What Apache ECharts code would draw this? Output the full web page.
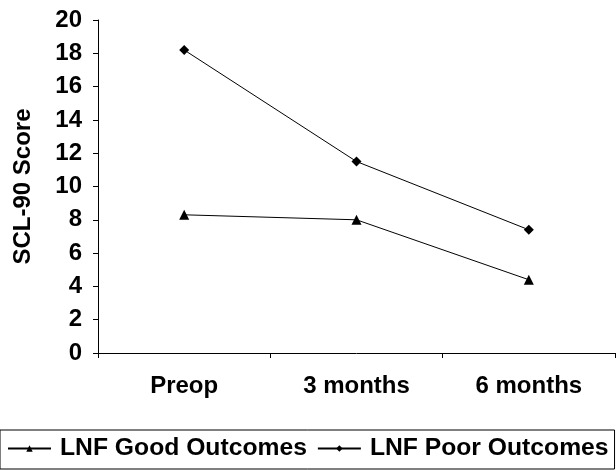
<!DOCTYPE html>
<html><head><meta charset="utf-8">
<script src="https://cdn.jsdelivr.net/npm/echarts@6/dist/echarts.min.js"></script>
<style>html,body{margin:0;padding:0;background:#fff}#c{width:616px;height:470px}</style>
</head><body><div id="c"></div>
<script>
var categories = ['Preop', '3 months', '6 months'];
var goodOutcomes = [8.3, 8.0, 4.4];
var poorOutcomes = [18.2, 11.5, 7.4];
var yTicks = [0, 2, 4, 6, 8, 10, 12, 14, 16, 18, 20];

var chart = echarts.init(document.getElementById('c'));
var font = 'Liberation Sans, Arial, sans-serif';
chart.setOption({
  animation: false,
  backgroundColor: '#fff',
  grid: {left: 98, top: 20, right: 1, bottom: 117},
  xAxis: {
    type: 'category', data: categories, boundaryGap: true,
    axisLine: {lineStyle: {color: '#000', width: 1}},
    axisTick: {show: true, length: 5, lineStyle: {color: '#000'}},
    axisLabel: {color: '#000', fontFamily: font, fontWeight: 'bold', fontSize: 24, margin: 21}
  },
  yAxis: {
    type: 'value', min: yTicks[0], max: yTicks[yTicks.length - 1], interval: 2,
    name: 'SCL-90 Score', nameLocation: 'middle', nameGap: 63,
    nameTextStyle: {color: '#000', fontFamily: font, fontWeight: 'bold', fontSize: 24},
    axisLine: {show: true, lineStyle: {color: '#000', width: 1}},
    axisTick: {show: true, length: 5, lineStyle: {color: '#000'}},
    splitLine: {show: false},
    axisLabel: {color: '#000', fontFamily: font, fontWeight: 'bold', fontSize: 24, margin: 16}
  },
  legend: {
    top: 430, left: 0,
    itemWidth: 43, itemHeight: 8, itemGap: 10,
    padding: [6, 6, 8, 7],
    borderColor: '#000', borderWidth: 1,
    textStyle: {color: '#000', fontFamily: font, fontWeight: 'bold', fontSize: 24.7, padding: [0, 0, 0, 4]},
    data: ['LNF Good Outcomes', 'LNF Poor Outcomes']
  },
  series: [
    {name: 'LNF Good Outcomes', type: 'line', data: goodOutcomes, symbol: 'triangle', symbolSize: 10,
      lineStyle: {color: '#000', width: 1}, itemStyle: {color: '#000'}},
    {name: 'LNF Poor Outcomes', type: 'line', data: poorOutcomes, symbol: 'diamond', symbolSize: 10,
      lineStyle: {color: '#000', width: 1}, itemStyle: {color: '#000'}}
  ]
});
</script></body></html>
